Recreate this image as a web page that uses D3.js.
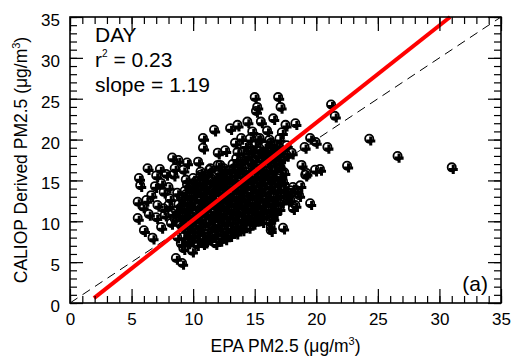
<!DOCTYPE html>
<html>
<head>
<meta charset="utf-8">
<script src="https://cdn.jsdelivr.net/npm/d3@7"></script>
<style>
  body { margin: 0; background: #fff; }
  svg { display: block; font-family: Helvetica, "Liberation Sans", Arial, sans-serif; }
</style>
</head>
<body>
<div id="chart"></div>
<script>
const W = 514, H = 356;
const margin = { left: 70, right: 13, top: 17, bottom: 53 };

// axis ticks
const majorTicks = [0, 5, 10, 15, 20, 25, 30, 35];
const minorTicks = d3.range(0, 36, 1);

// regression fit (y = slope * x + b) from the panel text
const fitSlope = 1.19;
const fitIntercept = -1.73;
const fitRange = [1.95, 30.87];
const r2 = '0.23';

// EPA PM2.5 vs CALIOP derived PM2.5
const leftPts = [
  [6.3,16.5],[7.3,16.4],[7.8,15.8],[5.6,15.3],[5.7,14.4],[7.4,14.7],[7.6,13.6],
  [5.5,12.4],[5.9,11.8],[7.1,12.0],[7.6,11.6],[5.5,10.4],[6.0,8.9],[6.7,8.0],
  [7.4,9.3],[8.2,9.8],[8.4,15.7],[8.8,17.5],[9.4,15.1],[8.1,12.8],[8.3,11.0],
  [6.6,13.2],[7.0,10.5],[8.5,16.5],[9.2,16.3],[9.5,17.2],[8.0,14.2],[8.7,13.5],
  [8.0,12.0],[7.7,10.8],[8.5,10.3],[6.4,10.9],[6.2,12.6],[6.9,14.3],[7.0,15.6],[8.3,17.8]
];
const lowPts = [
  [8.6,5.5],[9.1,4.9],[9.0,7.3],[8.7,8.1],[9.5,7.7],[9.2,6.7],[9.9,6.4],
  [10.8,7.3],[12.2,7.7],[13.3,8.9],[14.4,10.2],[15.2,11.0],[16.3,9.3],[16.7,11.1]
];
const corePts = [
  [9.6,7.4],[10.3,7.2],[11.0,7.5],[11.8,7.3],
  [9.2,8.1],[10.0,8.3],[10.7,8.0],[11.5,8.2],[12.3,8.1],[13.0,8.3],
  [9.5,8.9],[10.3,9.0],[11.1,8.8],[11.8,9.1],[12.6,8.9],[13.4,9.2],[14.0,9.0],
  [8.9,9.7],[9.7,9.8],[10.5,9.6],[11.2,9.9],[12.0,9.7],[12.7,9.8],[13.5,9.6],[14.2,9.9],[14.9,9.8],[15.6,10.0],
  [9.1,10.5],[9.9,10.6],[10.6,10.4],[11.4,10.7],[12.1,10.5],[12.9,10.6],[13.6,10.4],[14.4,10.7],[15.1,10.5],[15.9,10.8],[16.5,10.4],
  [8.6,11.3],[9.4,11.4],[10.2,11.2],[10.9,11.5],[11.7,11.3],[12.4,11.2],[13.2,11.4],[13.9,11.3],[14.7,11.5],[15.4,11.3],[16.2,11.4],[17.0,11.6],
  [8.8,12.1],[9.6,12.2],[10.4,12.0],[11.1,12.3],[11.9,12.1],[12.6,12.0],[13.4,12.2],[14.1,12.1],[14.9,12.3],[15.6,12.1],[16.4,12.2],[17.2,12.4],
  [9.0,12.9],[9.8,13.0],[10.6,12.8],[11.3,13.1],[12.1,12.9],[12.8,12.8],[13.6,13.0],[14.3,12.9],[15.1,13.1],[15.8,12.9],[16.6,13.0],[17.5,13.2],
  [9.3,13.7],[10.1,13.8],[10.8,13.6],[11.6,13.9],[12.3,13.7],[13.1,13.6],[13.8,13.8],[14.6,13.7],[15.3,13.9],[16.1,13.7],[16.8,13.8],[17.6,13.6],[18.4,13.8],
  [9.5,14.5],[10.3,14.6],[11.0,14.4],[11.8,14.7],[12.5,14.5],[13.3,14.4],[14.0,14.6],[14.8,14.5],[15.5,14.7],[16.3,14.5],[17.0,14.6],[17.3,14.9],
  [10.0,15.3],[10.8,15.4],[11.5,15.2],[12.3,15.5],[13.0,15.3],[13.8,15.2],[14.5,15.4],[15.3,15.3],[16.0,15.5],[16.8,15.3],
  [10.6,16.1],[11.3,16.3],[12.1,16.0],[12.9,16.2],[13.6,16.1],[14.4,16.0],[15.1,16.2],[15.9,16.1],[16.6,16.3],[17.4,16.0]
];
const coreFillPts = [
  [9.9,7.7],[10.7,7.7],[11.4,7.8],[12.6,7.9],
  [9.6,8.5],[10.4,8.5],[11.1,8.4],[11.9,8.6],[12.7,8.5],[13.5,8.6],
  [9.1,9.3],[9.9,9.3],[10.7,9.2],[11.5,9.4],[12.2,9.3],[13.0,9.2],[13.8,9.4],[14.5,9.3],
  [9.3,10.1],[10.1,10.1],[10.9,10.0],[11.6,10.2],[12.4,10.1],[13.1,10.0],[13.9,10.2],[14.6,10.1],[15.3,10.2],[16.1,10.0],
  [8.8,10.9],[9.6,10.9],[10.4,10.8],[11.1,11.0],[11.9,10.9],[12.6,10.8],[13.4,11.0],[14.1,10.9],[14.9,11.0],[15.6,10.8],[16.4,10.9],
  [9.0,11.7],[9.8,11.7],[10.6,11.6],[11.3,11.8],[12.1,11.7],[12.8,11.6],[13.6,11.8],[14.3,11.7],[15.1,11.8],[15.8,11.6],[16.6,11.7],
  [9.2,12.5],[10.0,12.5],[10.8,12.4],[11.5,12.6],[12.3,12.5],[13.0,12.4],[13.8,12.6],[14.5,12.5],[15.3,12.6],[16.0,12.4],[16.8,12.5],[17.7,12.6],
  [9.4,13.3],[10.2,13.3],[11.0,13.2],[11.7,13.4],[12.5,13.3],[13.2,13.2],[14.0,13.4],[14.7,13.3],[15.5,13.4],[16.2,13.2],[17.0,13.3],[17.9,13.4],
  [9.7,14.1],[10.5,14.1],[11.2,14.0],[12.0,14.2],[12.7,14.1],[13.5,14.0],[14.2,14.2],[15.0,14.1],[15.7,14.2],[16.5,14.0],[17.3,14.1],[18.1,14.2],
  [10.2,14.9],[10.9,14.9],[11.7,14.8],[12.4,15.0],[13.2,14.9],[13.9,14.8],[14.7,15.0],[15.4,14.9],[16.2,15.0],[16.9,14.8],
  [11.1,15.7],[11.9,15.7],[12.6,15.6],[13.4,15.8],[14.1,15.7],[14.9,15.6],[15.6,15.8],[16.4,15.7],[17.1,15.6],
  [12.5,16.5],[13.3,16.5],[14.0,16.4],[14.8,16.6],[15.5,16.5],[16.3,16.4],[17.1,16.6],
  [13.8,17.3],[14.6,17.3],[15.4,17.2],[16.1,17.4],[16.9,17.3],
  [14.4,18.1],[15.2,18.1],[16.0,18.0],[16.8,18.2],[17.6,18.1],
  [14.6,18.9],[15.4,18.9],[16.2,18.8],[17.0,19.0]
];
const upperPts = [
  [12.0,16.9],[13.2,17.0],[13.9,16.8],[14.7,17.1],[15.4,16.9],[16.2,17.0],[17.0,16.8],
  [13.5,17.7],[14.3,17.8],[15.0,17.6],[15.8,17.9],[16.5,17.7],[17.3,17.8],
  [14.0,18.5],[14.8,18.6],[15.6,18.4],[16.4,18.6],[17.2,18.5],[18.0,18.4],
  [14.2,19.3],[15.0,19.4],[15.8,19.2],[16.7,19.4],[17.6,19.3],
  [14.6,20.1],[15.4,20.2],[16.2,20.0],[17.0,20.1],
  [14.8,21.0],[16.0,21.1],[17.2,20.9],
  [15.0,25.2],[15.2,24.0],[16.9,25.2],[17.1,24.0],[15.1,23.5],[13.6,21.8],[14.4,22.2],
  [15.5,22.2],[16.5,22.6],[13.0,21.4],[13.9,20.2],[15.2,20.2],[16.3,19.6],[13.6,18.5],
  [15.7,18.5],[13.4,19.6],[12.0,18.4],[10.8,20.2],[10.8,19.0],[11.7,21.2],[12.6,18.7],
  [10.4,17.3],[11.4,16.5],[12.2,16.9],[12.6,15.1],[11.8,14.4],[10.6,15.7],[9.8,14.1],
  [17.5,21.8],[18.3,22.0]
];
const rightPts = [
  [31.0,16.6],[26.6,18.0],[24.3,20.1],[22.5,16.8],[21.2,24.3],[21.5,22.9],[20.9,19.1],
  [19.95,19.7],[19.5,20.2],[19.05,19.1],[19.9,16.3],[20.3,16.4],[19.2,15.9],[18.8,16.9],
  [17.9,12.6],[18.1,11.6],[19.5,12.2],[17.9,13.8],[18.7,14.4],[19.1,15.7],[18.3,12.0],
  [17.3,9.2],[16.3,8.9],[18.6,13.2]
];
const allPts = [...leftPts, ...lowPts, ...corePts, ...coreFillPts, ...upperPts, ...rightPts];

const svg = d3.select('#chart').append('svg')
  .attr('width', W)
  .attr('height', H);

const x = d3.scaleLinear().domain([0, 35]).range([margin.left, W - margin.right]);
const y = d3.scaleLinear().domain([0, 35]).range([H - margin.bottom, margin.top]);

const plot = svg.append('g');

// 1:1 dashed line
plot.append('line')
  .attr('x1', x(0)).attr('y1', y(0))
  .attr('x2', x(35)).attr('y2', y(35))
  .attr('stroke', '#000')
  .attr('stroke-width', 1)
  .attr('stroke-dasharray', '9,6');

// points: open circle with a filled cross just below-right
const pts = plot.append('g');
pts.selectAll('circle')
  .data(allPts)
  .enter()
  .append('circle')
  .attr('cx', (d) => x(d[0]))
  .attr('cy', (d) => y(d[1]))
  .attr('r', 4.1)
  .attr('fill', 'none')
  .attr('stroke', '#000')
  .attr('stroke-width', 1.8);

const cross = d3.symbol().type(d3.symbolCross).size(46);
pts.selectAll('path')
  .data(allPts)
  .enter()
  .append('path')
  .attr('d', cross)
  .attr('transform', (d) => `translate(${x(d[0]) + 1.5},${y(d[1]) + 2.2})`)
  .attr('fill', '#000');

// regression line
plot.append('line')
  .attr('x1', x(fitRange[0])).attr('y1', y(fitSlope * fitRange[0] + fitIntercept))
  .attr('x2', x(fitRange[1])).attr('y2', y(fitSlope * fitRange[1] + fitIntercept))
  .attr('stroke', '#ff0000')
  .attr('stroke-width', 4);

// axes: ticks point inward on all four sides
const styleAxis = (g) => {
  g.select('.domain').remove();
  g.selectAll('line').attr('stroke', '#000').attr('stroke-width', 1.2);
  g.selectAll('text').attr('font-size', 17).attr('font-family', 'Helvetica, "Liberation Sans", Arial, sans-serif').attr('fill', '#000');
};

const plotBottom = H - margin.bottom, plotTop = margin.top;
const plotLeft = margin.left, plotRight = W - margin.right;

svg.append('g').attr('transform', `translate(0,${plotBottom})`)
  .call(d3.axisBottom(x).tickValues(minorTicks).tickSize(-7).tickFormat(''))
  .call(styleAxis);
svg.append('g').attr('transform', `translate(0,${plotBottom})`)
  .call(d3.axisBottom(x).tickValues(majorTicks).tickSize(-14).tickPadding(10).tickFormat(d3.format('d')))
  .call(styleAxis);
svg.append('g').attr('transform', `translate(0,${plotTop})`)
  .call(d3.axisTop(x).tickValues(minorTicks).tickSize(-7).tickFormat(''))
  .call(styleAxis);
svg.append('g').attr('transform', `translate(0,${plotTop})`)
  .call(d3.axisTop(x).tickValues(majorTicks).tickSize(-14).tickFormat(''))
  .call(styleAxis);

svg.append('g').attr('transform', `translate(${plotLeft},0)`)
  .call(d3.axisLeft(y).tickValues(minorTicks).tickSize(-7).tickFormat(''))
  .call(styleAxis);
svg.append('g').attr('transform', `translate(${plotLeft},0)`)
  .call(d3.axisLeft(y).tickValues(majorTicks).tickSize(-13).tickPadding(10).tickFormat(d3.format('d')))
  .call(styleAxis)
  .selectAll('text').attr('dy', '0.5em');
svg.append('g').attr('transform', `translate(${plotRight},0)`)
  .call(d3.axisRight(y).tickValues(minorTicks).tickSize(-7).tickFormat(''))
  .call(styleAxis);
svg.append('g').attr('transform', `translate(${plotRight},0)`)
  .call(d3.axisRight(y).tickValues(majorTicks).tickSize(-13).tickFormat(''))
  .call(styleAxis);

// frame
svg.append('rect')
  .attr('x', plotLeft).attr('y', plotTop)
  .attr('width', plotRight - plotLeft).attr('height', plotBottom - plotTop)
  .attr('fill', 'none')
  .attr('stroke', '#000')
  .attr('stroke-width', 1.6);

// axis titles
const xt = svg.append('text')
  .attr('x', (plotLeft + plotRight) / 2)
  .attr('y', 352)
  .attr('text-anchor', 'middle')
  .attr('font-size', 17.5);
xt.append('tspan').text('EPA PM2.5 (μg/m');
xt.append('tspan').attr('font-size', 11).attr('dy', -7).text('3');
xt.append('tspan').attr('dy', 7).text(')');

const yt = svg.append('text')
  .attr('transform', `translate(27,${(plotTop + plotBottom) / 2}) rotate(-90)`)
  .attr('text-anchor', 'middle')
  .attr('font-size', 17.5);
yt.append('tspan').text('CALIOP Derived PM2.5 (μg/m');
yt.append('tspan').attr('font-size', 11).attr('dy', -7).text('3');
yt.append('tspan').attr('dy', 7).text(')');

// panel annotations
svg.append('text').attr('x', 95).attr('y', 42).attr('font-size', 21).text('DAY');
const rt = svg.append('text').attr('x', 95).attr('y', 67).attr('font-size', 21);
rt.append('tspan').text('r');
rt.append('tspan').attr('font-size', 10).attr('dy', -10).text('2');
rt.append('tspan').attr('dy', 10).text(` = ${r2}`);
svg.append('text').attr('x', 95).attr('y', 92).attr('font-size', 21).text(`slope = ${fitSlope}`);
svg.append('text').attr('x', 488).attr('y', 291).attr('text-anchor', 'end').attr('font-size', 21).text('(a)');
</script>
</body>
</html>
